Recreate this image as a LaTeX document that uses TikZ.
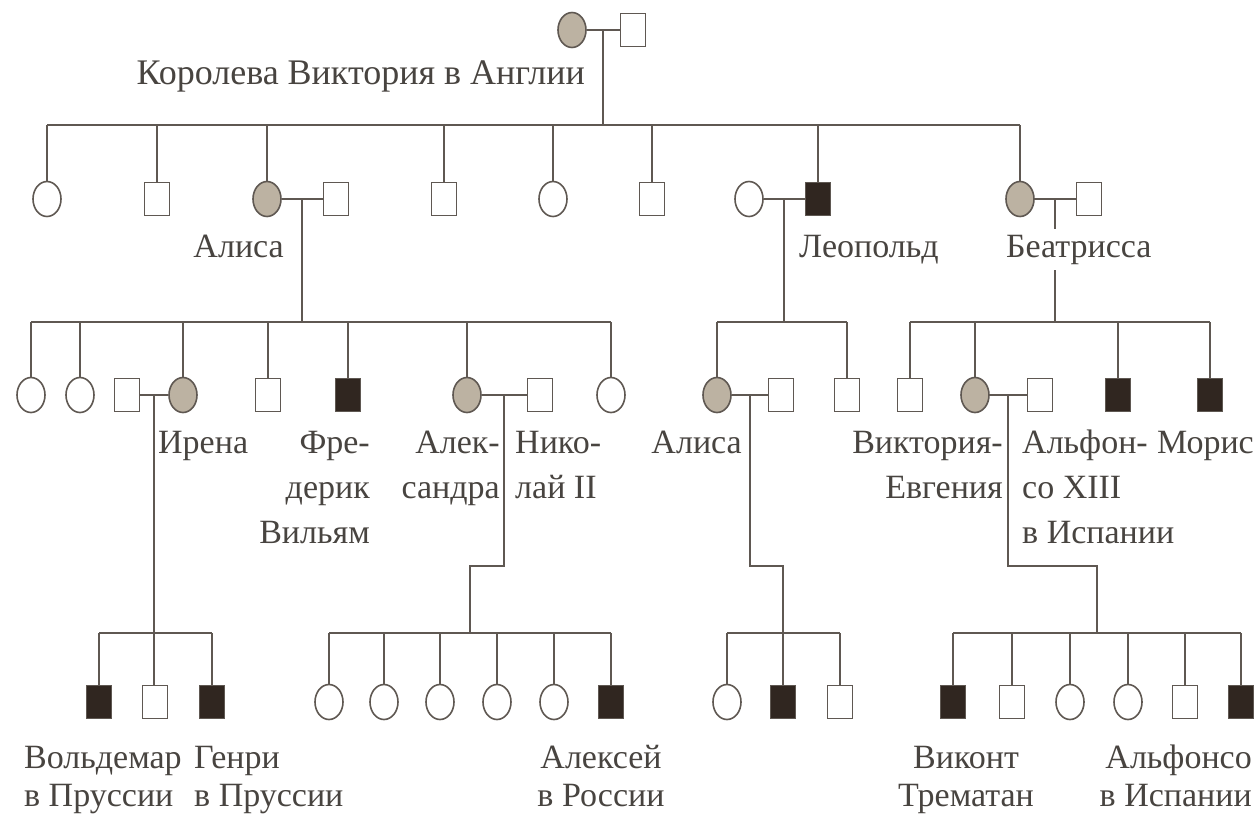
\documentclass[tikz,border=0pt]{standalone}
\usepackage{fontspec}
\setmainfont{Liberation Serif}
\usetikzlibrary{shapes.geometric,calc}
\definecolor{ink}{RGB}{95,88,82}
\definecolor{txt}{RGB}{72,68,64}
\definecolor{carrier}{RGB}{188,178,162}
\definecolor{affected}{RGB}{48,38,32}

\begin{document}
\begin{tikzpicture}[x=1pt,y=-1pt,
  every node/.style={inner sep=0pt},
  fem/.style={ellipse, draw=ink, line width=1.6pt, minimum width=28pt, minimum height=35pt, fill=white},
  mal/.style={rectangle, draw=ink, line width=1.6pt, minimum width=25pt, minimum height=33pt, fill=white},
  car/.style={fill=carrier},
  aff/.style={fill=affected},
  link/.style={draw=ink, line width=1.8pt},
  lbl/.style={text=txt, font=\fontsize{34}{45}\selectfont},
  lblb/.style={text=txt, font=\fontsize{34}{38}\selectfont},
]
% canvas
\fill[white] (0,0) rectangle (1256,820);

% levels
\coordinate (s2) at (0,125);
\coordinate (s3) at (0,322);
\coordinate (br) at (0,566);
\coordinate (s4) at (0,633);

% generation I
\node[fem,car] (vic) at (572,30) {};
\node[mal] (alb) at (633,30) {};

% generation II
\node[fem] (g2a) at (47,199) {};
\node[mal] (g2b) at (157,199) {};
\node[fem,car] (alice) at (267,199) {};
\node[mal] (alicesp) at (336,199) {};
\node[mal] (g2e) at (444,199) {};
\node[fem] (g2f) at (553,199) {};
\node[mal] (g2g) at (652,199) {};
\node[fem] (leowife) at (749,199) {};
\node[mal,aff] (leo) at (818,199) {};
\node[fem,car] (bea) at (1020,199) {};
\node[mal] (beasp) at (1089,199) {};

% generation III
\node[fem] (a1) at (31,395) {};
\node[fem] (a2) at (80,395) {};
\node[mal] (irenasp) at (127,395) {};
\node[fem,car] (irena) at (183,395) {};
\node[mal] (a5) at (268,395) {};
\node[mal,aff] (fw) at (348,395) {};
\node[fem,car] (alex) at (467,395) {};
\node[mal] (nik) at (540,395) {};
\node[fem] (a9) at (611,395) {};
\node[fem,car] (alicetwo) at (717,395) {};
\node[mal] (alicetwosp) at (781,395) {};
\node[mal] (l3) at (847,395) {};
\node[mal] (b1) at (910,395) {};
\node[fem,car] (ena) at (975,395) {};
\node[mal] (alf) at (1040,395) {};
\node[mal,aff] (b4) at (1118,395) {};
\node[mal,aff] (maur) at (1210,395) {};

% generation IV
\node[mal,aff] (i1) at (99,702) {};
\node[mal] (i2) at (155,702) {};
\node[mal,aff] (i3) at (212,702) {};
\node[fem] (n1) at (329,702) {};
\node[fem] (n2) at (384,702) {};
\node[fem] (n3) at (440,702) {};
\node[fem] (n4) at (497,702) {};
\node[fem] (n5) at (554,702) {};
\node[mal,aff] (alexei) at (611,702) {};
\node[fem] (c1) at (727,702) {};
\node[mal,aff] (c2) at (783,702) {};
\node[mal] (c3) at (840,702) {};
\node[mal,aff] (e1) at (953,702) {};
\node[mal] (e2) at (1012,702) {};
\node[fem] (e3) at (1070,702) {};
\node[fem] (e4) at (1128,702) {};
\node[mal] (e5) at (1185,702) {};
\node[mal,aff] (e6) at (1241,702) {};

% marriage points
\coordinate (m1) at ($(vic.east)!0.5!(alb.west)$);
\coordinate (m2) at ($(alice.east)!0.5!(alicesp.west)$);
\coordinate (m3) at ($(leowife.east)!0.5!(leo.west)$);
\coordinate (m4) at ($(bea.east)!0.5!(beasp.west)$);
\coordinate (m5) at ($(irenasp.east)!0.5!(irena.west)$);
\coordinate (m6) at ($(alex.east)!0.5!(nik.west)$);
\coordinate (m7) at ($(alicetwo.east)!0.5!(alicetwosp.west)$);
\coordinate (m8) at ($(ena.east)!0.5!(alf.west)$);

% marriage lines
\foreach \p/\q in {vic/alb, alice/alicesp, leowife/leo, bea/beasp,
                   irenasp/irena, alex/nik, alicetwo/alicetwosp, ena/alf}
  \draw[link] (\p.east) -- (\q.west);

% Victoria's children
\draw[link] (m1) -- (m1 |- s2);
\draw[link] (g2a.north |- s2) -- (bea.north |- s2);
\foreach \c in {g2a,g2b,alice,g2e,g2f,g2g,leo,bea}
  \draw[link] (\c.north) -- (\c.north |- s2);

% Alice's children
\draw[link] (m2) -- (m2 |- s3);
\draw[link] (a1.north |- s3) -- (a9.north |- s3);
\foreach \c in {a1,a2,irena,a5,fw,alex,a9}
  \draw[link] (\c.north) -- (\c.north |- s3);

% Leopold's children
\draw[link] (m3) -- (m3 |- s3);
\draw[link] (alicetwo.north |- s3) -- (l3.north |- s3);
\foreach \c in {alicetwo,l3}
  \draw[link] (\c.north) -- (\c.north |- s3);

% Beatrice's children
\draw[link] (m4) -- (m4 |- s3);
\draw[link] (b1.north |- s3) -- (maur.north |- s3);
\foreach \c in {b1,ena,b4,maur}
  \draw[link] (\c.north) -- (\c.north |- s3);

% Irena's children
\draw[link] (m5) -- (m5 |- i2.north);
\draw[link] (i1.north |- s4) -- (i3.north |- s4);
\foreach \c in {i1,i3}
  \draw[link] (\c.north) -- (\c.north |- s4);

% Alexandra's children
\coordinate (k6) at ($(n1.north |- s4)!0.5!(alexei.north |- s4)$);
\draw[link] (m6) -- (m6 |- br) -- (k6 |- br) -- (k6);
\draw[link] (n1.north |- s4) -- (alexei.north |- s4);
\foreach \c in {n1,n2,n3,n4,n5,alexei}
  \draw[link] (\c.north) -- (\c.north |- s4);

% children of the younger Alice
\draw[link] (m7) -- (m7 |- br) -- (c2.north |- br) -- (c2.north);
\draw[link] (c1.north |- s4) -- (c3.north |- s4);
\foreach \c in {c1,c3}
  \draw[link] (\c.north) -- (\c.north |- s4);

% Victoria Eugenie's children
\coordinate (k8) at ($(e1.north |- s4)!0.5!(e6.north |- s4)$);
\draw[link] (m8) -- (m8 |- br) -- (k8 |- br) -- (k8);
\draw[link] (e1.north |- s4) -- (e6.north |- s4);
\foreach \c in {e1,e2,e3,e4,e5,e6}
  \draw[link] (\c.north) -- (\c.north |- s4);

% names (a multi-line node sits on the baseline of its last line)
\node[lbl, font=\fontsize{36}{45}\selectfont, anchor=base east] (tvic) at (585,84) {Королева Виктория в Англии};
\node[lbl, anchor=base east] (talice) at (284,257) {Алиса};
\node[lbl, anchor=base west] (tleo) at (799,257) {Леопольд};
\node[lbl, anchor=base west, fill=white, inner ysep=6pt] (tbea) at (1006,257) {Беатрисса};

\node[lbl, anchor=base west] (tirena) at (158,453) {Ирена};
\node[lbl, align=right, anchor=base east] (tfw) at (370,543) {Фре-\\дерик\\Вильям};
\node[lbl, align=right, anchor=base east] (talex) at (500,498) {Алек-\\сандра};
\node[lbl, align=left, anchor=base west] (tnik) at (515,498) {Нико-\\лай II};
\node[lbl, anchor=base east] (talicetwo) at (742,453) {Алиса};
\node[lbl, align=right, anchor=base east] (tena) at (1003,498) {Виктория-\\Евгения};
\node[lbl, align=left, anchor=base west] (talf) at (1022,543) {Альфон-\\со XIII\\в Испании};
\node[lbl, anchor=base east] (tmaur) at (1254,453) {Морис};

\node[lblb, align=left, anchor=base west] (ti1) at (24,806) {Вольдемар\\в Пруссии};
\node[lblb, align=left, anchor=base west] (ti3) at (194,806) {Генри\\в Пруссии};
\node[lblb, align=center, anchor=base] (talexei) at (601,806) {Алексей\\в России};
\node[lblb, align=center, anchor=base] (te1) at (966,806) {Виконт\\Трематан};
\node[lblb, align=right, anchor=base east] (te6) at (1252,806) {Альфонсо\\в Испании};
\end{tikzpicture}
\end{document}
